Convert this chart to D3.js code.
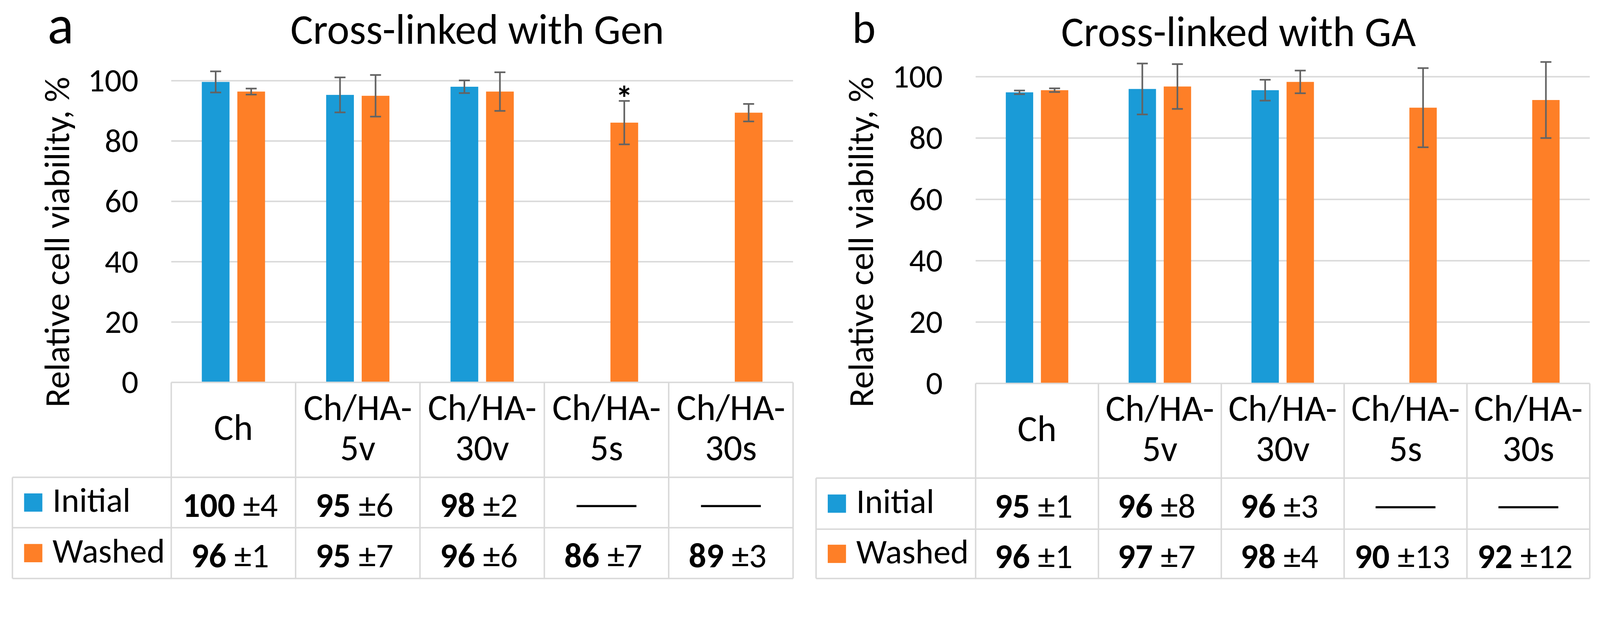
<!DOCTYPE html>
<html>
<head>
<meta charset="utf-8">
<script src="https://cdn.jsdelivr.net/npm/d3@7/dist/d3.min.js"></script>
<style>
  html, body { margin: 0; padding: 0; width: 100%; height: 100%; overflow: hidden; background: #fff; }
  #chart { display: block; width: 100vw; height: 100vh; }
  svg text { font-family: Carlito, Calibri, Lato, sans-serif; fill: #000; white-space: pre; }
</style>
</head>
<body>
<svg id="chart" viewBox="0 0 4382 1615" preserveAspectRatio="xMinYMin meet"></svg>
<script>
// categorias y series
var categories = ["Ch", "Ch/HA-5v", "Ch/HA-30v", "Ch/HA-5s", "Ch/HA-30s"];
var seriesNames = ["Initial", "Washed"];
var yTicks = [0, 20, 40, 60, 80, 100];

// a: entrecruzado con Gen
var genInitial   = [99.6, 95.3, 98.0, null, null];
var genInitialSd = [3.5, 5.8, 2.1, null, null];
var genWashed    = [96.4, 95.0, 96.4, 86.1, 89.4];
var genWashedSd  = [1.0, 6.9, 6.4, 7.2, 2.9];
var genMarks     = [null, null, null, "*", null]; // sobre "Washed"

// b: entrecruzado con GA
var gaInitial    = [94.9, 96.0, 95.6, null, null];
var gaInitialSd  = [0.6, 8.3, 3.4, null, null];
var gaWashed     = [95.6, 96.8, 98.3, 89.9, 92.4];
var gaWashedSd   = [0.6, 7.3, 3.7, 12.9, 12.4];
var gaMarks      = [null, null, null, null, null];

var _colors = { Initial: "#1a9bd7", Washed: "#fe7f27" };
var _gridColor = "#d9d9d9";
var _errColor = "#636363";

var svg = d3.select("#chart");
svg.append("rect").attr("width", 4382).attr("height", 1615).style("fill", "#fff");

var drawPanel = function(cfg){
	var g = svg.append("g");

	var x0 = d3.scaleBand().domain(categories).range([cfg.left, cfg.right]);
	var x1 = d3.scaleBand().domain(seriesNames).range([0, x0.bandwidth()])
		.paddingInner(0.22).paddingOuter(0.86);
	var y = d3.scaleLinear().domain([0, 100]).range([cfg.y0, cfg.y100]);

	// lineas de la rejilla
	g.selectAll("line.grid")
		.data(yTicks.filter(function(d){ return d > 0; }))
		.enter().append("line")
		.attr("class", "grid")
		.attr("x1", cfg.left).attr("x2", cfg.right)
		.attr("y1", function(d){ return y(d); })
		.attr("y2", function(d){ return y(d); })
		.style("stroke", _gridColor).style("stroke-width", 4);

	// eje y
	var gAxis = g.append("g")
		.attr("transform", "translate(" + cfg.left + ",0)")
		.call(d3.axisLeft(y).tickValues(yTicks).tickSize(0).tickPadding(90));
	gAxis.attr("font-family", null).attr("font-size", null);
	gAxis.select(".domain").remove();
	gAxis.selectAll("text").style("font-size", "91px");

	// titulo eje y
	g.append("text")
		.attr("transform", "translate(" + cfg.yTitleX + "," + cfg.yTitleY + ") rotate(-90)")
		.attr("text-anchor", "middle")
		.style("font-size", "97px")
		.text("Relative cell viability, %");

	// titulo y letra del panel
	g.append("text")
		.attr("x", cfg.titleX).attr("y", cfg.titleY)
		.attr("text-anchor", "middle")
		.style("font-size", "116px")
		.text(cfg.title);
	g.append("text")
		.attr("x", cfg.letterX).attr("y", cfg.letterY)
		.style("font-size", cfg.letterSize + "px")
		.text(cfg.letter);

	// barras
	var rows = [];
	seriesNames.forEach(function(s){
		var vals = s == "Initial" ? cfg.initial : cfg.washed;
		var sds = s == "Initial" ? cfg.initialSd : cfg.washedSd;
		categories.forEach(function(c, i){
			rows.push({ cat: c, serie: s, v: vals[i], sd: sds[i],
				mark: s == "Washed" ? cfg.marks[i] : null });
		});
	});
	var bars = rows.filter(function(d){ return d.v != null; });

	g.selectAll("rect.bar").data(bars).enter().append("rect")
		.attr("class", "bar")
		.attr("x", function(d){ return x0(d.cat) + x1(d.serie); })
		.attr("y", function(d){ return y(d.v); })
		.attr("width", x1.bandwidth())
		.attr("height", function(d){ return y(0) - y(d.v); })
		.style("fill", function(d){ return _colors[d.serie]; });

	// barras de error
	var err = g.selectAll("g.err").data(bars).enter().append("g")
		.attr("class", "err")
		.attr("transform", function(d){
			return "translate(" + (x0(d.cat) + x1(d.serie) + x1.bandwidth()/2) + ",0)";
		})
		.style("stroke", _errColor).style("stroke-width", 4.5);
	err.append("line")
		.attr("y1", function(d){ return y(d.v + d.sd); })
		.attr("y2", function(d){ return y(d.v - d.sd); });
	err.append("line").attr("x1", -15).attr("x2", 15)
		.attr("y1", function(d){ return y(d.v + d.sd); })
		.attr("y2", function(d){ return y(d.v + d.sd); });
	err.append("line").attr("x1", -15).attr("x2", 15)
		.attr("y1", function(d){ return y(d.v - d.sd); })
		.attr("y2", function(d){ return y(d.v - d.sd); });

	g.selectAll("text.mark").data(bars.filter(function(d){ return d.mark; }))
		.enter().append("text")
		.attr("class", "mark")
		.attr("x", function(d){ return x0(d.cat) + x1(d.serie) + x1.bandwidth()/2; })
		.attr("y", function(d){ return y(d.v + d.sd) + 26; })
		.attr("text-anchor", "middle")
		.style("font-size", "95px").style("font-weight", "bold")
		.text(function(d){ return d.mark; });

	// tabla de datos
	var rowBottoms = [cfg.headBottom, cfg.row1Bottom, cfg.row2Bottom];
	var tLines = g.append("g").style("stroke", _gridColor).style("stroke-width", 4);
	tLines.append("line").attr("x1", cfg.left).attr("x2", cfg.right)
		.attr("y1", y(0)).attr("y2", y(0));
	rowBottoms.forEach(function(yy){
		tLines.append("line").attr("x1", cfg.legendLeft).attr("x2", cfg.right)
			.attr("y1", yy).attr("y2", yy);
	});
	tLines.append("line").attr("x1", cfg.legendLeft).attr("x2", cfg.legendLeft)
		.attr("y1", cfg.headBottom).attr("y2", cfg.row2Bottom);
	var edges = categories.map(function(c){ return x0(c); }).concat([cfg.right]);
	edges.forEach(function(xx){
		tLines.append("line").attr("x1", xx).attr("x2", xx)
			.attr("y1", y(0)).attr("y2", cfg.row2Bottom);
	});

	// cabeceras
	var headMid = (y(0) + cfg.headBottom) / 2;
	categories.forEach(function(c){
		var parts = c.indexOf("-") > 0 ? [c.slice(0, c.indexOf("-") + 1), c.slice(c.indexOf("-") + 1)] : [c];
		var t = g.append("text")
			.attr("text-anchor", "middle")
			.style("font-size", "101px");
		parts.forEach(function(p, k){
			t.append("tspan")
				.attr("x", x0(c) + x0.bandwidth()/2)
				.attr("y", headMid + 28 + (k - (parts.length - 1)/2) * 110)
				.text(p);
		});
	});

	// filas de valores y leyenda
	seriesNames.forEach(function(s, r){
		var top = rowBottoms[r], bottom = rowBottoms[r + 1];
		var mid = (top + bottom) / 2;
		g.append("rect")
			.attr("x", cfg.legendLeft + 32).attr("y", mid - 25)
			.attr("width", 50).attr("height", 50)
			.style("fill", _colors[s]);
		g.append("text")
			.attr("x", cfg.legendLeft + 110).attr("y", mid + 26)
			.style("font-size", "94px")
			.text(s);

		rows.filter(function(d){ return d.serie == s; }).forEach(function(d){
			var cx = x0(d.cat) + x0.bandwidth()/2;
			if (d.v == null){
				g.append("text")
					.attr("x", cx - 101).attr("y", mid + 3)
					.attr("dominant-baseline", "central")
					.attr("textLength", 202).attr("lengthAdjust", "spacingAndGlyphs")
					.style("font-size", "93px")
					.text("\u2014");
			}
			else{
				var t = g.append("text")
					.attr("x", cx - 9).attr("y", mid + 39)
					.attr("text-anchor", "middle")
					.style("font-size", "95px");
				t.append("tspan").style("font-weight", "bold").text(Math.round(d.v));
				t.append("tspan").text(" \u00b1" + Math.round(d.sd));
			}
		});
	});
}

drawPanel({
	letter: "a", letterX: 130, letterY: 119, letterSize: 150,
	title: "Cross-linked with Gen", titleX: 1307, titleY: 120,
	left: 469, right: 2172, y0: 1047, y100: 221,
	headBottom: 1307, row1Bottom: 1445, row2Bottom: 1584, legendLeft: 34,
	yTitleX: 189, yTitleY: 663,
	initial: genInitial, initialSd: genInitialSd,
	washed: genWashed, washedSd: genWashedSd, marks: genMarks
});

drawPanel({
	letter: "b", letterX: 2334, letterY: 117, letterSize: 122,
	title: "Cross-linked with GA", titleX: 3392, titleY: 126,
	left: 2672, right: 4354, y0: 1050, y100: 210,
	headBottom: 1309, row1Bottom: 1449, row2Bottom: 1584, legendLeft: 2235,
	yTitleX: 2391, yTitleY: 663,
	initial: gaInitial, initialSd: gaInitialSd,
	washed: gaWashed, washedSd: gaWashedSd, marks: gaMarks
});
</script>
</body>
</html>
